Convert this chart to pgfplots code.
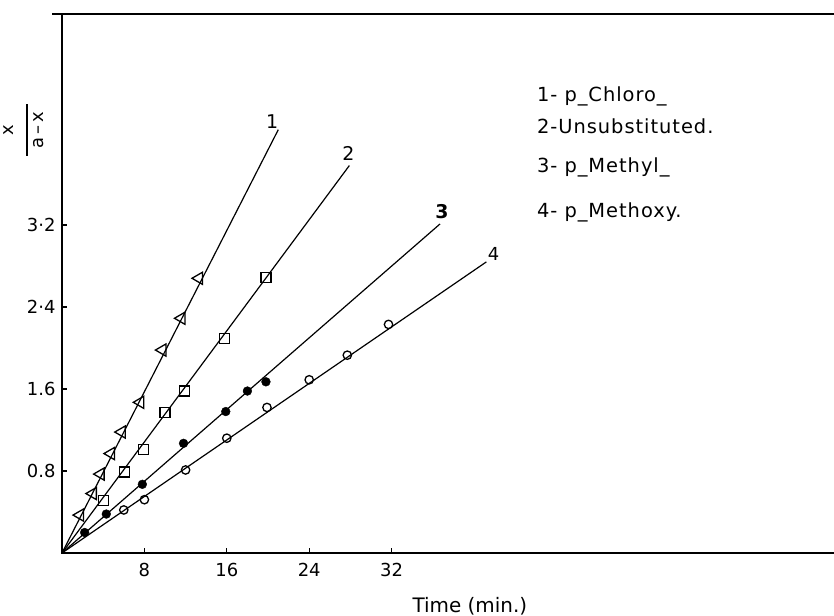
\documentclass[border=0pt]{standalone}
\usepackage{fontspec}
\setmainfont{DejaVu Sans}
\newfontfamily\keyfont[LetterSpace=5]{DejaVu Sans}
\usepackage{pgfplots}
\pgfplotsset{compat=1.18}

\begin{document}
\begin{tikzpicture}
\useasboundingbox (-62bp,-63bp) rectangle (772bp,553bp);
\begin{axis}[
  at={(0,0)}, anchor=south west,
  scale only axis, width=776bp, height=539bp,
  xmin=0, xmax=75.34, ymin=0, ymax=5.2585,
  axis line style={line width=2.8bp},
  tick pos=left, tick align=inside, major tick length=5bp,
  tick style={line width=1.2bp, black},
  xtick={8,16,24,32}, xticklabels={8,16,24,32},
  ytick={0.8,1.6,2.4,3.2}, yticklabels={0.8,1.6,2·4,3·2},
  ticklabel style={font=\fontsize{18}{18}\selectfont},
  xticklabel style={yshift=-7bp},
  yticklabel style={xshift=-3bp},
  /pgf/number format/assume math mode=true,
  clip=false,
]
% fitted lines through the origin
\addplot[black, line width=1.2bp] coordinates {(0,0) (21.0,4.13)};
\addplot[black, line width=1.2bp] coordinates {(0,0) (27.9,3.78)};
\addplot[black, line width=1.2bp] coordinates {(0,0) (36.7,3.21)};
\addplot[black, line width=1.2bp] coordinates {(0,0) (41.2,2.84)};

% 1 - p-chloro
\addplot[only marks, mark=triangle, mark size=7bp,
  mark options={rotate=90, line width=1.3bp, fill=white, draw=black}]
  coordinates {(1.75,0.37) (3.0,0.58) (3.75,0.77) (4.75,0.97) (5.8,1.18)
               (7.6,1.47) (9.75,1.98) (11.6,2.29) (13.3,2.68)};
% 2 - unsubstituted
\addplot[only marks, mark=square, mark size=5bp,
  mark options={line width=1.3bp, fill=white, draw=black}]
  coordinates {(4.0,0.51) (6.1,0.79) (7.9,1.01) (10.0,1.37) (11.9,1.58)
               (15.8,2.09) (19.8,2.69)};
% 3 - p-methyl
\addplot[only marks, mark=*, mark size=4.4bp,
  mark options={fill=black, draw=black}]
  coordinates {(2.2,0.20) (4.3,0.38) (7.8,0.67) (11.8,1.07) (15.9,1.38)
               (18.0,1.58) (19.8,1.67)};
% 4 - p-methoxy
\addplot[only marks, mark=o, mark size=4.2bp,
  mark options={line width=1.3bp, fill=white, draw=black}]
  coordinates {(6.0,0.42) (8.0,0.52) (12.0,0.81) (16.0,1.12) (19.9,1.42)
               (24.0,1.69) (27.7,1.93) (31.7,2.23)};

% curve numbers
\node[font=\fontsize{19}{19}\selectfont] at (axis cs:20.4,4.21) {1};
\node[font=\fontsize{19}{19}\selectfont] at (axis cs:27.8,3.90) {2};
\node[font=\bfseries\fontsize{19}{19}\selectfont] at (axis cs:36.9,3.33) {3};
\node[font=\fontsize{18}{18}\selectfont] at (axis cs:41.9,2.92) {4};

% key
\node[anchor=west, font=\keyfont\fontsize{19.5}{19.5}\selectfont, inner sep=0pt] at (axis cs:46.1,4.45) {1- p\_Chloro\_};
\node[anchor=west, font=\keyfont\fontsize{19.5}{19.5}\selectfont, inner sep=0pt] at (axis cs:46.1,4.16) {2-Unsubstituted.};
\node[anchor=west, font=\keyfont\fontsize{19.5}{19.5}\selectfont, inner sep=0pt] at (axis cs:46.1,3.76) {3- p\_Methyl\_};
\node[anchor=west, font=\keyfont\fontsize{19.5}{19.5}\selectfont, inner sep=0pt] at (axis cs:46.1,3.32) {4- p\_Methoxy.};

% axis titles
\node[xshift=-37bp, rotate=90, font=\fontsize{18}{18}\selectfont, inner sep=0pt] at (rel axis cs:0,0.785)
  {\begin{tabular}{@{}c@{}}x\\[-4pt]\rule{52bp}{1.8bp}\\[-2pt]a\,–\,x\end{tabular}};
\node[font=\fontsize{20}{20}\selectfont] at (axis cs:39.6,0) [yshift=-53bp] {Time (min.)};

% top frame line runs a little past the left spine
\draw[line width=2.8bp] (rel axis cs:0,1) -- ++(-10bp,0);
\end{axis}
\end{tikzpicture}
\end{document}
